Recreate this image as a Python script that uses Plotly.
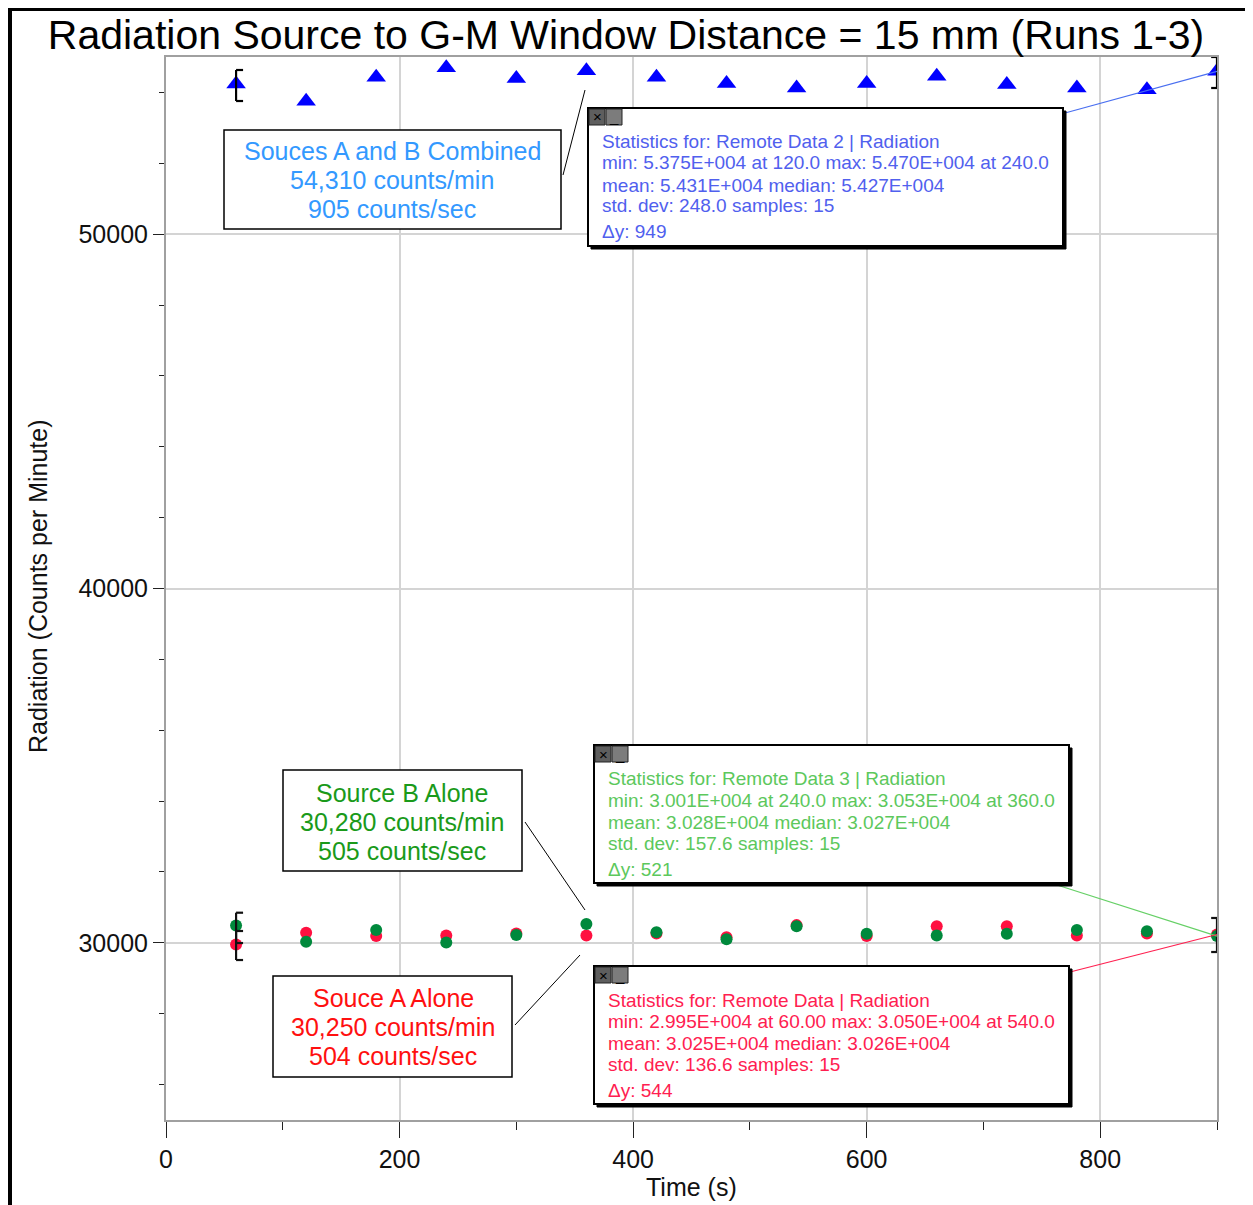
import plotly.graph_objects as go

# ---------------- data ----------------
time_s = [60, 120, 180, 240, 300, 360, 420, 480, 540, 600, 660, 720, 780, 840, 900]
combined_cpm = [54235, 53750, 54425, 54700, 54395, 54615, 54425, 54255, 54125, 54255,
                54455, 54225, 54125, 54075, 54595]
source_b_cpm = [30490, 30030, 30360, 30010, 30220, 30530, 30300, 30100, 30470, 30255,
                30210, 30255, 30360, 30330, 30190]
source_a_cpm = [29950, 30285, 30190, 30210, 30265, 30210, 30265, 30160, 30500, 30190,
                30470, 30465, 30210, 30265, 30235]
x_tick_vals = [0, 200, 400, 600, 800]
y_tick_vals = [30000, 40000, 50000]

title_text = "Radiation Source to G-M Window Distance = 15 mm (Runs 1-3)"
combined_label = ["Souces A and B Combined", "54,310 counts/min", "905 counts/sec"]
source_b_label = ["Source B Alone", "30,280 counts/min", "505 counts/sec"]
source_a_label = ["Souce A Alone", "30,250 counts/min", "504 counts/sec"]
stats_combined = ["Statistics for: Remote Data 2 | Radiation",
                  "min: 5.375E+004 at 120.0 max: 5.470E+004 at 240.0",
                  "mean: 5.431E+004 median: 5.427E+004",
                  "std. dev: 248.0 samples: 15",
                  "\u0394y: 949"]
stats_b = ["Statistics for: Remote Data 3 | Radiation",
           "min: 3.001E+004 at 240.0 max: 3.053E+004 at 360.0",
           "mean: 3.028E+004 median: 3.027E+004",
           "std. dev: 157.6 samples: 15",
           "\u0394y: 521"]
stats_a = ["Statistics for: Remote Data | Radiation",
           "min: 2.995E+004 at 60.00 max: 3.050E+004 at 540.0",
           "mean: 3.025E+004 median: 3.026E+004",
           "std. dev: 136.6 samples: 15",
           "\u0394y: 544"]

# ---------------- styling / layout helpers ----------------
FONT = "Arial, 'Liberation Sans', sans-serif"
PAGE_W, PAGE_H = 1253, 1205
BODY = 8                      # default page body margin in the html
W, H = PAGE_W - BODY, PAGE_H - BODY
L, R, T, B = 166, 1217, 57, 1120   # plot area in page pixels
XR = [0, 900]
YR = [25000, 55000]

BLUE = "#0000ff"
GREEN = "#00893c"
RED = "#ff1040"


def px(x):
    return (x - L) / (R - L)


def py(y):
    return (B - y) / (B - T)


def dx(v):
    return (v - XR[0]) / (XR[1] - XR[0])


def dy(v):
    return (v - YR[0]) / (YR[1] - YR[0])


fig = go.Figure()
fig.add_trace(go.Scatter(x=time_s, y=source_a_cpm, mode="markers", name="Source A",
                         marker=dict(symbol="circle", size=12, color=RED), showlegend=False))
fig.add_trace(go.Scatter(x=time_s, y=source_b_cpm, mode="markers", name="Source B",
                         marker=dict(symbol="circle", size=12, color=GREEN), showlegend=False))
fig.add_trace(go.Scatter(x=time_s, y=combined_cpm, mode="markers", name="Combined",
                         marker=dict(symbol="triangle-up", size=17, color=BLUE), showlegend=False))

shapes = []
annotations = []

# outer frame
shapes.append(dict(type="rect", xref="paper", yref="paper",
                   x0=px(10), x1=px(1250), y0=py(1215), y1=py(9),
                   line=dict(color="black", width=4), fillcolor="rgba(0,0,0,0)", layer="above"))


def line_px(x0, y0, x1, y1, color, width=1.2):
    shapes.append(dict(type="line", xref="paper", yref="paper",
                       x0=px(x0), y0=py(y0), x1=px(x1), y1=py(y1),
                       line=dict(color=color, width=width), layer="above"))


def bracket(xv, ytop, ybot, color, side="left", serif=6):
    s = serif if side == "left" else -serif
    for (a0, b0, a1, b1) in [(xv, ytop, xv, ybot), (xv, ytop, xv + s, ytop), (xv, ybot, xv + s, ybot)]:
        shapes.append(dict(type="line", xref="x", yref="y", x0=a0, y0=b0, x1=a1, y1=b1,
                           line=dict(color=color, width=2.2), layer="above"))


# selection brackets
bracket(time_s[0], 54633, 53758, "#000000", "left")
bracket(time_s[-1], 55000, 54125, "#000000", "right", 5)
bracket(time_s[0], 30850, 29995, "#111111", "left")
bracket(time_s[0], 30334, 29515, "#111111", "left")
bracket(time_s[-1], 30701, 29741, "#111111", "right", 5)


def text_box(x0, y0, x1, y1, lines, color, ys, xc):
    shapes.append(dict(type="rect", xref="paper", yref="paper",
                       x0=px(x0), x1=px(x1), y0=py(y1), y1=py(y0),
                       line=dict(color="black", width=1.5), fillcolor="white", layer="above"))
    for t, yy in zip(lines, ys):
        annotations.append(dict(xref="paper", yref="paper", x=px(xc), y=py(yy), text=t,
                                showarrow=False, xanchor="center", yanchor="middle",
                                font=dict(family=FONT, size=25, color=color)))


def stats_box(x0, y0, x1, y1, lines, color, ys, xt):
    shapes.append(dict(type="rect", xref="paper", yref="paper",
                       x0=px(x0 + 3), x1=px(x1 + 3), y0=py(y1 + 3), y1=py(y0 + 3),
                       line=dict(color="black", width=1), fillcolor="black", layer="above"))
    shapes.append(dict(type="rect", xref="paper", yref="paper",
                       x0=px(x0), x1=px(x1), y0=py(y1), y1=py(y0),
                       line=dict(color="black", width=2), fillcolor="white", layer="above"))
    # close / minimize buttons
    for i, (fc, sym) in enumerate([("#5e5e5e", "\u00d7"), ("#7c7c7c", "_")]):
        bx = x0 + 1 + i * 17
        shapes.append(dict(type="rect", xref="paper", yref="paper",
                           x0=px(bx), x1=px(bx + 16), y0=py(y0 + 17), y1=py(y0 + 1),
                           line=dict(color="#222222", width=1), fillcolor=fc, layer="above"))
        annotations.append(dict(xref="paper", yref="paper", x=px(bx + 8), y=py(y0 + 9),
                                text=sym, showarrow=False, xanchor="center", yanchor="middle",
                                font=dict(family=FONT, size=15, color="black")))
    for t, yy in zip(lines, ys):
        annotations.append(dict(xref="paper", yref="paper", x=px(xt), y=py(yy), text=t,
                                showarrow=False, xanchor="left", yanchor="middle",
                                font=dict(family=FONT, size=19, color=color)))


# connectors from stats boxes to last sample
shapes.append(dict(type="line", xref="paper", yref="paper", x0=px(1065), y0=py(113),
                   x1=dx(time_s[-1]), y1=dy(combined_cpm[-1]),
                   line=dict(color="#4a6ff0", width=1.2), layer="above"))
shapes.append(dict(type="line", xref="paper", yref="paper", x0=px(1057), y0=py(885),
                   x1=dx(time_s[-1]), y1=dy(source_b_cpm[-1]),
                   line=dict(color="#66d066", width=1.2), layer="above"))
shapes.append(dict(type="line", xref="paper", yref="paper", x0=px(1070), y0=py(972),
                   x1=dx(time_s[-1]), y1=dy(source_a_cpm[-1]),
                   line=dict(color="#ff2050", width=1.2), layer="above"))

# black callout lines
line_px(563, 175, 585, 90, "black", 1)
line_px(525, 822, 585, 910, "black", 1)
line_px(515, 1025, 580, 955, "black", 1)

text_box(224, 130, 561, 229, combined_label, "#3399ff", [151, 180, 209], 392)
text_box(283, 770, 522, 871, source_b_label, "#1a9a1a", [793, 822, 851], 402)
text_box(273, 976, 512, 1077, source_a_label, "#ff1010", [998, 1027, 1056], 393)

stats_box(588, 108, 1063, 246, stats_combined, "#5060ee", [142, 163, 185, 206, 232], 600)
stats_box(594, 745, 1069, 883, stats_b, "#5cc85c", [779, 800, 822, 843, 869], 606)
stats_box(594, 966, 1069, 1104, stats_a, "#ff2050", [1000, 1021, 1043, 1064, 1090], 606)

# axis titles
annotations.append(dict(xref="paper", yref="paper", x=px(691), y=py(1187), text="Time (s)",
                        showarrow=False, xanchor="center", yanchor="middle",
                        font=dict(family=FONT, size=25, color="#111111")))
annotations.append(dict(xref="paper", yref="paper", x=px(38), y=py(586),
                        text="Radiation (Counts per Minute)", textangle=-90,
                        showarrow=False, xanchor="center", yanchor="middle",
                        font=dict(family=FONT, size=25, color="#111111")))

fig.update_layout(
    width=W, height=H, autosize=False,
    margin=dict(l=L - BODY, r=PAGE_W - R, t=T - BODY, b=PAGE_H - B, pad=0),
    paper_bgcolor="white", plot_bgcolor="white",
    title=dict(text=title_text, xref="container", yref="container",
               x=(626 - BODY) / W, y=1 - (35 - BODY) / H, xanchor="center", yanchor="middle",
               font=dict(family=FONT, size=41, color="black")),
    shapes=shapes, annotations=annotations,
    xaxis=dict(range=XR, tickvals=x_tick_vals, ticks="outside", ticklen=16, tickwidth=1.2,
               tickcolor="#222222", showline=True, linecolor="#a0a0a0", linewidth=2, mirror=True,
               showgrid=True, gridcolor="#d4d4d4", gridwidth=1.5, zeroline=False,
               tickformat="d",
               tickfont=dict(family=FONT, size=25, color="#111111"),
               minor=dict(dtick=100, tick0=0, ticks="outside", ticklen=8, tickcolor="#222222",
                          showgrid=False)),
    yaxis=dict(range=YR, tickvals=y_tick_vals, ticks="outside", ticklen=11, tickwidth=1.2,
               tickcolor="#222222", showline=True, linecolor="#a0a0a0", linewidth=2, mirror=True,
               showgrid=True, gridcolor="#d4d4d4", gridwidth=1.5, zeroline=False,
               tickformat="d",
               tickfont=dict(family=FONT, size=25, color="#111111"),
               minor=dict(dtick=2000, tick0=0, ticks="outside", ticklen=5, tickcolor="#222222",
                          showgrid=False)),
)

fig.write_html("out.html")
